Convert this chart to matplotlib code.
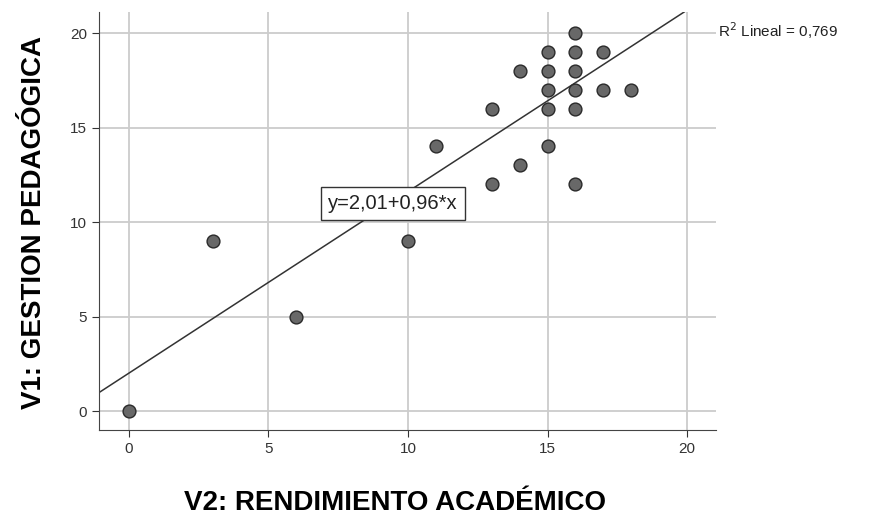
import matplotlib.pyplot as plt
import numpy as np

plt.rcParams['font.family'] = ['Liberation Sans', 'DejaVu Sans']

# V2 (rendimiento) vs V1 (gestion)
x_vals = [0, 3, 6, 10, 11, 13, 13, 14, 14, 15, 15, 15, 15, 15,
          16, 16, 16, 16, 16, 16, 17, 17, 18]
y_vals = [0, 9, 5, 9, 14, 16, 12, 18, 13, 19, 18, 17, 16, 14,
          20, 19, 18, 17, 16, 12, 19, 17, 17]
intercept = 2.01
slope = 0.96
r2_label = "R$^2$ Lineal = 0,769"
eq_label = "y=2,01+0,96*x"
ticks = [0, 5, 10, 15, 20]

fig = plt.figure(figsize=(8.69, 5.18), dpi=100)
ax = fig.add_axes([0.1139, 0.1699, 0.7101, 0.8069])
ax.set_xlim(-1.075, 21.04)
ax.set_ylim(-1.0, 21.11)

ax.grid(True, color='#cccccc', linewidth=1.3)
ax.set_axisbelow(True)

lx = np.array([-1.075, 20.0])
ax.plot(lx, intercept + slope*lx, color='#333333', lw=1.1, zorder=2)

ax.scatter(x_vals, y_vals, s=85, facecolor='#686868', edgecolor='#2a2a2a',
           linewidth=1.0, zorder=3)

ax.text(9.46, 11.0, eq_label, fontsize=14.5, ha='center', va='center', color='#222222',
        bbox=dict(boxstyle='square,pad=0.35', facecolor='white', edgecolor='#333333', lw=1))
fig.text(0.826, 0.94, r2_label, fontsize=11, ha='left', va='center', color='#222222')

ax.set_xticks(ticks)
ax.set_yticks(ticks)
ax.tick_params(labelsize=11, colors='#333333', length=5)
for s in ['top', 'right']:
    ax.spines[s].set_visible(False)
for s in ['left', 'bottom']:
    ax.spines[s].set_color('#444444')

fig.text(0.4545, 0.029, "V2: RENDIMIENTO ACADÉMICO", fontsize=20, fontweight='bold',
         ha='center', va='center')
fig.text(0.039, 0.571, "V1: GESTION PEDAGÓGICA", fontsize=20, fontweight='bold',
         ha='center', va='center', rotation=90)

plt.savefig("out.png", dpi=100)
